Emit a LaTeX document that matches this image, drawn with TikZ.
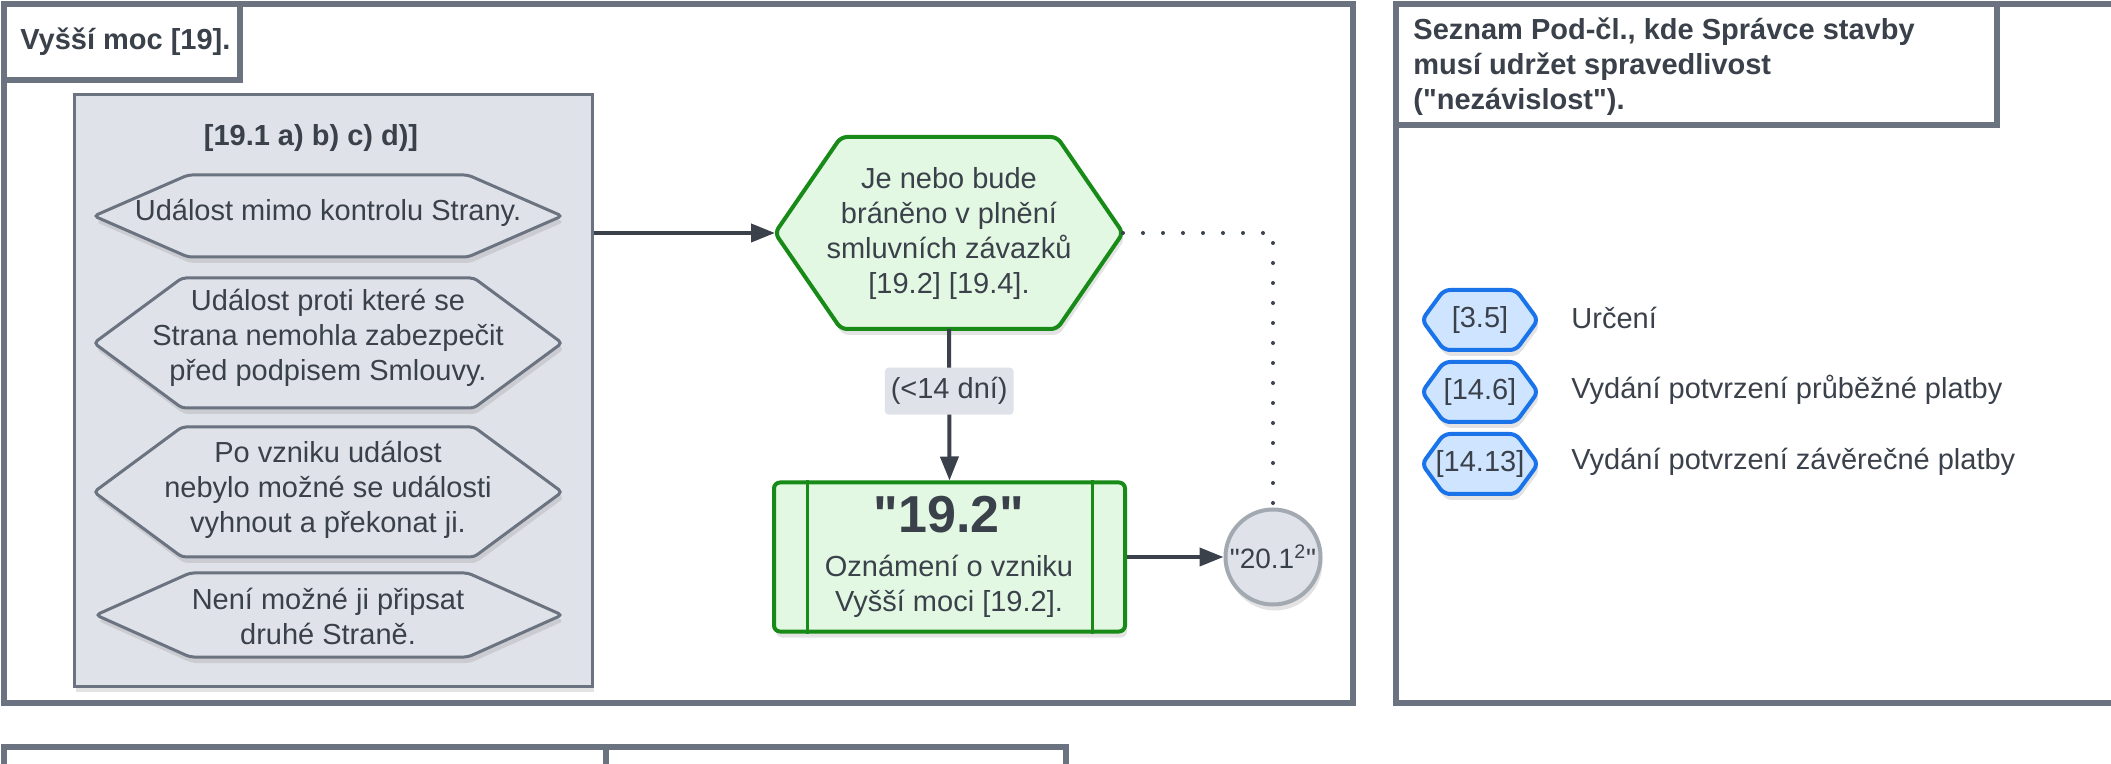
\documentclass[tikz,border=0pt]{standalone}
\usepackage{fontspec}
\setmainfont{Liberation Sans}
\usetikzlibrary{arrows.meta,positioning,shadows}

\definecolor{framegray}{HTML}{6B7280}
\definecolor{boxgray}{HTML}{DFE2E8}
\definecolor{ink}{HTML}{3A414A}
\definecolor{greenline}{HTML}{178A17}
\definecolor{greenfill}{HTML}{E3F8E3}
\definecolor{blueline}{HTML}{1A73E8}
\definecolor{bluefill}{HTML}{CFE4FF}
\definecolor{circline}{HTML}{A3A9B1}

% hexagon: style, centre x, centre y, half width, half height, inset
\newcommand{\hexa}[6]{%
  \draw[#1] (#2-#4,#3) -- (#2-#4+#6,#3-#5) -- (#2+#4-#6,#3-#5) -- (#2+#4,#3)
    -- (#2+#4-#6,#3+#5) -- (#2-#4+#6,#3+#5) -- cycle;}
\newcommand{\qq}{\textquotedbl}

\begin{document}
\begin{tikzpicture}[x=0.5pt, y=-0.5pt,
  base/.style = {font=\fontsize{14.5}{17.5}\selectfont, text=ink, inner sep=0pt, align=center},
  head/.style = {base, font=\fontsize{14.5}{17.5}\selectfont\bfseries},
  frame/.style = {draw=framegray, line width=3pt},
  shadow/.style = {drop shadow={opacity=0.22, shadow xshift=1pt, shadow yshift=-3pt}},
  grp/.style = {rectangle, draw=framegray, fill=boxgray, line width=1.5pt, shadow},
  hexgray/.style = {draw=framegray, fill=boxgray, line width=1.5pt, rounded corners=2pt, shadow},
  hexgreen/.style = {draw=greenline, fill=greenfill, line width=2pt, rounded corners=3pt, shadow},
  hexblue/.style = {draw=blueline, fill=bluefill, line width=2pt, rounded corners=3pt, shadow},
  notice/.style = {rectangle, draw=greenline, fill=greenfill, line width=2pt, rounded corners=3pt,
    minimum width=175.5pt, minimum height=74.5pt, shadow},
  refc/.style = {base, circle, draw=circline, fill=boxgray, line width=2pt, minimum size=47.5pt,
    font=\fontsize{14}{17}\selectfont, shadow},
  tag/.style = {base, fill=boxgray, rounded corners=2pt, inner xsep=3pt, minimum height=23.5pt},
  arr/.style = {draw=ink, line width=2pt, -{Triangle[length=12pt, width=9pt]}},
  dots/.style = {draw=ink, line width=2pt, line cap=round, dash pattern=on 0pt off 10pt}
]
\useasboundingbox[fill=white] (0,0) rectangle (2111,764);
\clip (0,0) rectangle (2111,764);

% frames
\draw[frame] (4,4) rectangle (1353,703);
\draw[frame] (4,4) rectangle (240,80);
\draw[frame] (1396,4) rectangle (2140,703);
\draw[frame] (1396,4) rectangle (1997,125);
\draw[frame] (4,747) rectangle (606,800);
\draw[frame] (606,747) rectangle (1066,800);

\node[head, anchor=west] (title) at (20,42) {Vyšší moc [19].};
\node[head, anchor=west, align=left] (listtitle) at (1413,67)
  {Seznam Pod-čl., kde Správce stavby\\musí udržet spravedlivost\\(\qq nezávislost\qq).};

% conditions
\node[grp, minimum width=259pt, minimum height=295.5pt] (cond) at (333,390.5) {};
\node[head] (condtitle) at (311,138) {[19.1 a) b) c) d)]};

\hexa{hexgray}{328}{216}{234}{41}{94}
\hexa{hexgray}{328}{343}{234}{65}{88}
\hexa{hexgray}{328}{492}{234}{65}{88}
\hexa{hexgray}{329}{615}{233}{42}{94}

\node[base] (ev1) at (328,213) {Událost mimo kontrolu Strany.};
\node[base] (ev2) at (328,338) {Událost proti které se\\Strana nemohla zabezpečit\\před podpisem Smlouvy.};
\node[base] (ev3) at (328,490) {Po vzniku událost\\nebylo možné se události\\vyhnout a překonat ji.};
\node[base] (ev4) at (328,616) {Není možné ji připsat\\druhé Straně.};

% decision
\hexa{hexgreen}{949}{233}{174}{96}{66}
\coordinate (dec-w) at (775,233);
\coordinate (dec-e) at (1123,233);
\coordinate (dec-s) at (949,329);
\node[base] (dec) at (949,234) {Je nebo bude\\bráněno v plnění\\smluvních závazků\\{}[19.2] [19.4].};

\node[notice] (note) at (949.5,557) {};
\draw[greenline, line width=1.5pt] ([xshift=17.5pt]note.north west) -- ([xshift=17.5pt]note.south west);
\draw[greenline, line width=1.5pt] ([xshift=-17.5pt]note.north east) -- ([xshift=-17.5pt]note.south east);
\node[base, font=\fontsize{26}{30}\selectfont\bfseries] (notenum) at (949,515) {\qq 19.2\qq};
\node[base] (notetext) at (949,586) {Oznámení o vzniku\\Vyšší moci [19.2].};

\node[refc] (ref) at (1273,557) {\qq 20.1\textsuperscript{2}\qq};

% connectors
\draw[arr] (cond.east |- dec-w) -- (dec-w);
\draw[arr] (dec-s) -- node[tag, pos=0.41] (days) {(<14 dní)} (note.north);
\draw[arr] (note.east) -- (ref.west);
\draw[dots] (dec-e) -| (ref.north);

% list of sub-clauses
\hexa{hexblue}{1480}{320}{58}{30}{22}
\hexa{hexblue}{1480}{392}{58}{30}{22}
\hexa{hexblue}{1480}{464}{58}{30}{22}
\node[base] (c1) at (1480,320) {[3.5]};
\node[base] (c2) at (1480,392) {[14.6]};
\node[base] (c3) at (1480,464) {[14.13]};
\node[base, anchor=west] (l1) at (1571,318) {Určení};
\node[base, anchor=west] (l2) at (1571,390) {Vydání potvrzení průběžné platby};
\node[base, anchor=west] (l3) at (1571,462) {Vydání potvrzení závěrečné platby};

\end{tikzpicture}
\end{document}
